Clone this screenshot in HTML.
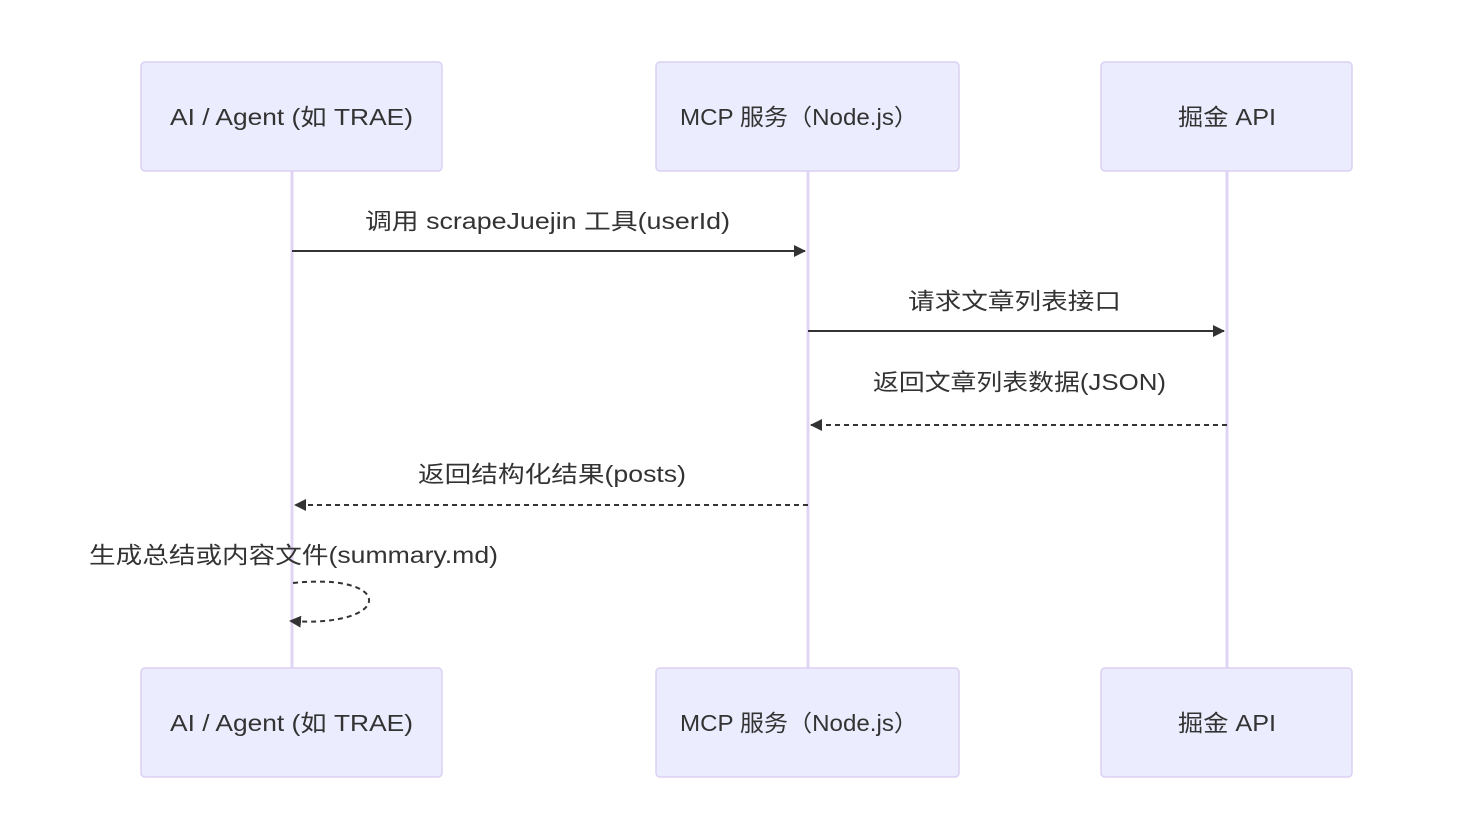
<!DOCTYPE html>
<html><head><meta charset="utf-8"><style>
html,body{margin:0;padding:0;background:#fff;}
svg text{font-family:"Liberation Sans","Noto Sans CJK SC",sans-serif;font-size:23px;fill:#333;}
</style></head><body>
<svg width="1462" height="812" viewBox="0 0 1462 812" xmlns="http://www.w3.org/2000/svg">
<defs>
<marker id="ah" markerWidth="12" markerHeight="12" refX="11" refY="6" orient="auto" markerUnits="userSpaceOnUse">
<path d="M0,0 L12,6 L0,12 z" fill="#333"/></marker>
</defs>
<g stroke="#e0d4f5" stroke-width="3">
<line x1="292" y1="171" x2="292" y2="668"/>
<line x1="808" y1="171" x2="808" y2="668"/>
<line x1="1227" y1="171" x2="1227" y2="668"/>
</g>
<g fill="#ececff" stroke="#dcd0f2" stroke-width="1.5">
<rect x="141" y="62" width="301" height="109" rx="4"/>
<rect x="656" y="62" width="303" height="109" rx="4"/>
<rect x="1101" y="62" width="251" height="109" rx="4"/>
<rect x="141" y="668" width="301" height="109" rx="4"/>
<rect x="656" y="668" width="303" height="109" rx="4"/>
<rect x="1101" y="668" width="251" height="109" rx="4"/>
</g>
<g dominant-baseline="central" lengthAdjust="spacingAndGlyphs">
<text x="170" y="117" textLength="243" lengthAdjust="spacingAndGlyphs">AI / Agent (如 TRAE)</text>
<text x="680" y="117" textLength="238" lengthAdjust="spacingAndGlyphs">MCP 服务（Node.js）</text>
<text x="1178" y="117" textLength="98" lengthAdjust="spacingAndGlyphs">掘金 API</text>
<text x="170" y="723" textLength="243" lengthAdjust="spacingAndGlyphs">AI / Agent (如 TRAE)</text>
<text x="680" y="723" textLength="238" lengthAdjust="spacingAndGlyphs">MCP 服务（Node.js）</text>
<text x="1178" y="723" textLength="98" lengthAdjust="spacingAndGlyphs">掘金 API</text>
</g>
<g>
<text x="365" y="229" textLength="365" lengthAdjust="spacingAndGlyphs">调用 scrapeJuejin 工具(userId)</text>
<text x="908" y="309" textLength="213" lengthAdjust="spacingAndGlyphs">请求文章列表接口</text>
<text x="873" y="390" textLength="293" lengthAdjust="spacingAndGlyphs">返回文章列表数据(JSON)</text>
<text x="418" y="482" textLength="268" lengthAdjust="spacingAndGlyphs">返回结构化结果(posts)</text>
<text x="89" y="563" textLength="409" lengthAdjust="spacingAndGlyphs">生成总结或内容文件(summary.md)</text>
</g>
<g stroke="#333" stroke-width="2" fill="none">
<line x1="292" y1="251" x2="805" y2="251" marker-end="url(#ah)"/>
<line x1="808" y1="331" x2="1224" y2="331" marker-end="url(#ah)"/>
<line x1="1227" y1="425" x2="811" y2="425" stroke-dasharray="5,4" marker-end="url(#ah)"/>
<line x1="808" y1="505" x2="295" y2="505" stroke-dasharray="5,4" marker-end="url(#ah)"/>
<path d="M293,583 C395,572 395,628 290,621" stroke-dasharray="5,4" marker-end="url(#ah)"/>
</g>
</svg>
</body></html>
